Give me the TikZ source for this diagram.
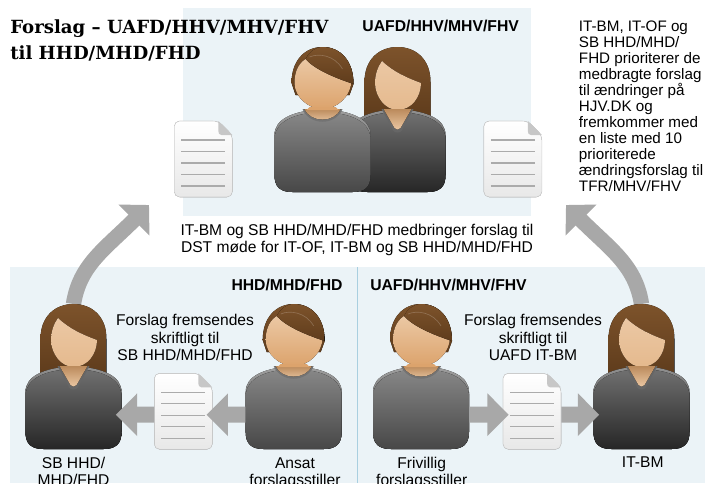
\documentclass[tikz,border=0pt]{standalone}
\usepackage{fontspec}
\setmainfont{Liberation Sans}
\newfontfamily\titlefont{DejaVu Serif}
\usetikzlibrary{arrows.meta}

\definecolor{panelblue}{HTML}{EBF3F7}
\definecolor{dividerblue}{HTML}{A9CFE0}
\definecolor{flowgray}{HTML}{A8A8A8}
\definecolor{hairtop}{HTML}{7D532B}
\definecolor{hairbot}{HTML}{5F3C1C}
\definecolor{skintop}{HTML}{EBC8A4}
\definecolor{skinbot}{HTML}{DCA36C}
\definecolor{docline}{HTML}{ABABAB}

\tikzset{
	panel/.style={fill=panelblue,draw=none},
	flow/.style={draw=flowgray,line width=12pt,-{Triangle[length=16pt,width=31pt]},shorten >=-4.5pt},
	bigflow/.style={draw=flowgray,line width=11.5pt,-{Triangle[length=16pt,width=32pt]}},
	label/.style={inner sep=0pt,font=\fontsize{11.7pt}{12.8pt}\selectfont,align=center},
	grouplabel/.style={inner sep=0pt,font=\fontsize{11.8pt}{12pt}\selectfont\bfseries},
	anchorbox/.style={inner sep=0pt,minimum height=45pt},
	man/.pic={
		\fill[top color=hairtop,bottom color=hairbot] \hairMan;
		\fill[top color=skintop,bottom color=skinbot] \faceMan;
		\fill[top color=hairtop,bottom color=hairbot] \fringeMan;
		\draw[white!80!hairtop,opacity=.25,line width=.5pt] (-13,10) .. controls (-4,6) and (12,8) .. (20,22);
		\fill[top color=gray!75,bottom color=black!72] \bodyShape;
		\fill[top color=black!47,bottom color=black!72] \bodyInner;
		\fill[black!55] (-20,62) .. controls (-13,79) and (13,79) .. (20,62) -- cycle;
		\fill[top color=skinbot!85!black,bottom color=skintop] (-18,62) .. controls (-12,76) and (12,76) .. (18,62) -- cycle;
		\fill[skinbot] (-13,60) -- (13,60) -- (16,63) -- (-16,63) -- cycle;
		\node[anchorbox,minimum width=72pt] (-body) at (0,110.7) {};
		\coordinate (-top) at (0,0);
	},
	woman/.pic={
		\fill[top color=hairtop,bottom color=hairbot] \hairWoman;
		\fill[top color=skintop,bottom color=skintop!60!skinbot] \faceWoman;
		\fill[top color=gray!85,bottom color=black!85] \bodyShape;
		\fill[top color=black!56,bottom color=black!85] \bodyInner;
		\fill[black!60] (-16,62) -- (-4,84) .. controls (-2,86) and (2,86) .. (4,84) -- (16,62) -- cycle;
		\fill[top color=skinbot!85!black,bottom color=skintop] (-14,62) -- (-3,81) .. controls (-1,83) and (1,83) .. (3,81) -- (14,62) -- cycle;
		\node[anchorbox,minimum width=72pt] (-body) at (0,110.7) {};
		\coordinate (-top) at (0,0);
	},
	paper/.pic={
		\fill[rounded corners=4pt,top color=white,bottom color=black!9,draw=black!18,line width=.4pt]
			(-29,0) -- (15,0) -- (29,14) -- (29,76) -- (-29,76) -- cycle;
		\fill[black!22] (15,0) -- (29,14) -- (18,14) .. controls (16,14) and (15,12) .. (15,10) -- cycle;
		\foreach \lineY in {19,30.5,42,53.5,65}
			\draw[docline,line width=1pt] (-22,\lineY) -- (22,\lineY);
		\node[anchorbox,minimum width=43.5pt] (-box) at (0,41.4) {};
	},
}

\begin{document}
\begin{tikzpicture}[x=0.75pt,y=-0.75pt]
	%\draw[help lines] (0,0) grid (705,483);

	\path[use as bounding box,clip] (0,0) rectangle (705,483);

	\path
	coordinate (posTopMan) at (322.5,47)
	coordinate (posTopWoman) at (397.5,47)
	coordinate (posSb) at (73.5,304)
	coordinate (posAnsat) at (293.7,304)
	coordinate (posFrivillig) at (421,304)
	coordinate (posItbm) at (641.5,304)
	coordinate (tipLeft) at (149,205)
	coordinate (tipRight) at (566,205)
	;

	\def\bodyShape{
		(-48,128) .. controls (-48,140) and (-42,145) .. (-30,145) -- (30,145)
		.. controls (42,145) and (48,140) .. (48,128) -- (48,88)
		.. controls (48,72) and (30,64) .. (0,62)
		.. controls (-30,64) and (-48,72) .. (-48,88) -- cycle
	}
	\def\bodyInner{
		(-48,128) .. controls (-48,140) and (-42,145) .. (-30,145) -- (30,145)
		.. controls (42,145) and (48,140) .. (48,128) -- (48,90)
		.. controls (46,75) and (30,66) .. (0,65)
		.. controls (-30,66) and (-46,75) .. (-48,90) -- cycle
	}
	\def\hairMan{
		(-31,36) .. controls (-31,14) and (-18,0) .. (0,0)
		.. controls (18,0) and (31,14) .. (31,37)
		-- (27,48) -- (-27,48) -- cycle
	}
	\def\faceMan{
		(-17,12) .. controls (-26,18) and (-28,28) .. (-28,36)
		.. controls (-28,50) and (-14,62) .. (0,62)
		.. controls (14,62) and (29,50) .. (29,32) -- (20,12) -- cycle
	}
	\def\fringeMan{
		(-17,12) .. controls (-8,22) and (10,30) .. (31,37)
		.. controls (31,14) and (18,0) .. (0,0)
		.. controls (-8,0) and (-14,6) .. (-17,12) -- cycle
	}
	\def\hairWoman{
		(-33,70) -- (-33,35) .. controls (-33,12) and (-18,0) .. (0,0)
		.. controls (18,0) and (33,12) .. (33,35) -- (33,70) -- cycle
	}
	\def\faceWoman{
		(-15.5,14) .. controls (-20,20) and (-22.5,28) .. (-22.5,36)
		.. controls (-22.5,50) and (-12,63) .. (0,63)
		.. controls (14,63) and (23.5,50) .. (23.5,36)
		.. controls (10,31) and (-4,25) .. (-15.5,14) -- cycle
	}

	% panels
	\fill[panel] (183,8) rectangle (531,216);
	\fill[panel] (10,267) rectangle (705,483);
	\draw[dividerblue,line width=.6pt] (357.3,267) -- (357.3,483);

	% curved arrows, behind the persons
	\draw[bigflow] (posSb) .. controls +(6,-39) and +(-44,44) .. (tipLeft);
	\draw[bigflow] (posItbm) .. controls +(-6,-39) and +(44,44) .. (tipRight);

	% top group
	\pic (topWoman) at (posTopWoman) {woman};
	\pic (topMan) at (posTopMan) {man};
	\pic (docTopLeft) at (203.3,121) {paper};
	\pic (docTopRight) at (512.8,121) {paper};

	% lower groups
	\pic (sb) at (posSb) {woman};
	\pic (ansat) at (posAnsat) {man};
	\pic (frivillig) at (posFrivillig) {man};
	\pic (itbm) at (posItbm) {woman};
	\pic (docHhd) at (183.3,373.3) {paper};
	\pic (docUafd) at (532,373.3) {paper};

	\draw[flow] (ansat-body.west) -- (docHhd-box.east);
	\draw[flow] (docHhd-box.west) -- (sb-body.east);
	\draw[flow] (frivillig-body.east) -- (docUafd-box.west);
	\draw[flow] (docUafd-box.east) -- (itbm-body.west);

	% texts
	\node[inner sep=0pt,anchor=west,align=left,font=\titlefont\bfseries\fontsize{13.6pt}{19.5pt}\selectfont] (title) at (10,40)
		{Forslag – UAFD/HHV/MHV/FHV\\til HHD/MHD/FHD};
	\node[grouplabel] (lblTop) at (440.7,26) {UAFD/HHV/MHV/FHV};
	\node[grouplabel] (lblHhd) at (287,285) {HHD/MHD/FHD};
	\node[grouplabel] (lblUafd) at (448.5,285) {UAFD/HHV/MHV/FHV};

	\node[inner sep=0pt,anchor=north west,align=left,font=\fontsize{11.4pt}{12pt}\selectfont] (lblRight) at (578.7,21)
		{IT-BM, IT-OF og\\SB HHD/MHD/\\FHD prioriterer de\\medbragte forslag\\til ændringer på\\HJV.DK og\\fremkommer med\\en liste med 10\\prioriterede\\ændringsforslag til\\TFR/MHV/FHV};
	\node[label] (lblMeeting) at (357,240) {IT-BM og SB HHD/MHD/FHD medbringer forslag til\\DST møde for IT-OF, IT-BM og SB HHD/MHD/FHD};
	\node[label] (lblSendHhd) at (185,339) {Forslag fremsendes\\skriftligt til\\SB HHD/MHD/FHD\vphantom{g}};
	\node[label] (lblSendUafd) at (533,339) {Forslag fremsendes\\skriftligt til\\UAFD IT-BM\vphantom{g}};
	\node[label] (lblSb) at (73.5,473) {SB HHD/\\MHD/FHD\vphantom{g}};
	\node[label] (lblAnsat) at (295,473) {Ansat\\forslagsstiller};
	\node[label] (lblFrivillig) at (421.7,473) {Frivillig\\forslagsstiller};
	\node[label] (lblItbm) at (642.7,462) {IT-BM};

\end{tikzpicture}
\end{document}
